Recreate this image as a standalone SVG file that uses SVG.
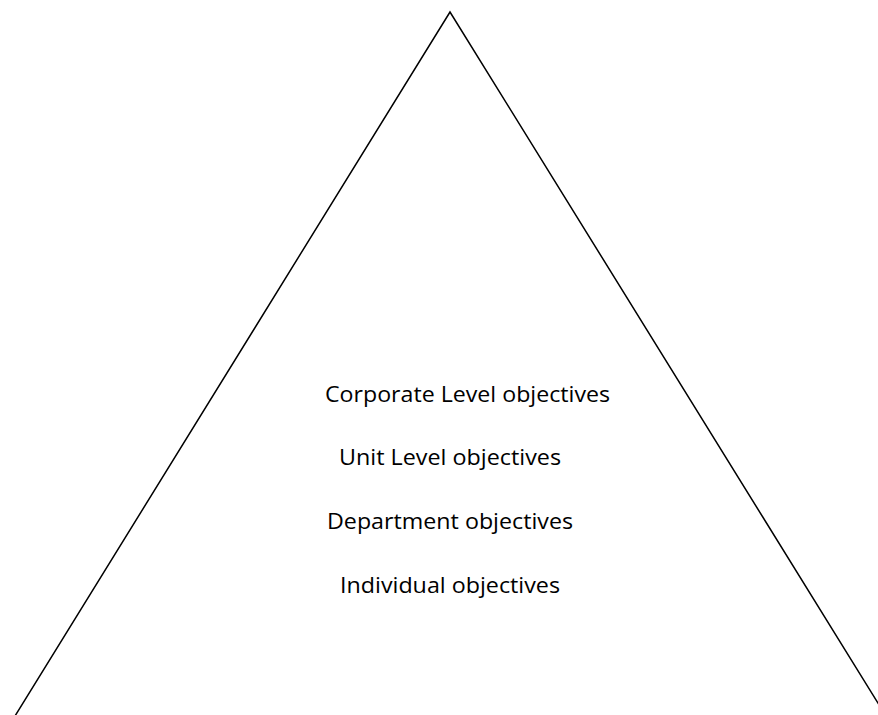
<svg xmlns="http://www.w3.org/2000/svg" width="878" height="715" viewBox="0 0 878 715">
  <style>
    .edge { fill: none; stroke: #000; stroke-width: 1.5; stroke-linejoin: miter; }
    .label { font-family: "Open Sans", "Liberation Sans", sans-serif; font-size: 22.5px; fill: #000; }
  </style>
  <rect width="878" height="715" fill="#fff"/>
  <!-- pyramid outline; base runs past the page edge -->
  <g id="connectors">
    <polyline class="edge" points="15,716 450,12 886,716"/>
  </g>
  <g id="corporate">
    <text class="label" x="325" y="402" textLength="285" lengthAdjust="spacingAndGlyphs">Corporate Level objectives</text>
  </g>
  <g id="unit">
    <text class="label" x="339" y="465" textLength="222" lengthAdjust="spacingAndGlyphs">Unit Level objectives</text>
  </g>
  <g id="department">
    <text class="label" x="327" y="529" textLength="246" lengthAdjust="spacingAndGlyphs">Department objectives</text>
  </g>
  <g id="individual">
    <text class="label" x="340" y="593" textLength="220" lengthAdjust="spacingAndGlyphs">Individual objectives</text>
  </g>
</svg>
